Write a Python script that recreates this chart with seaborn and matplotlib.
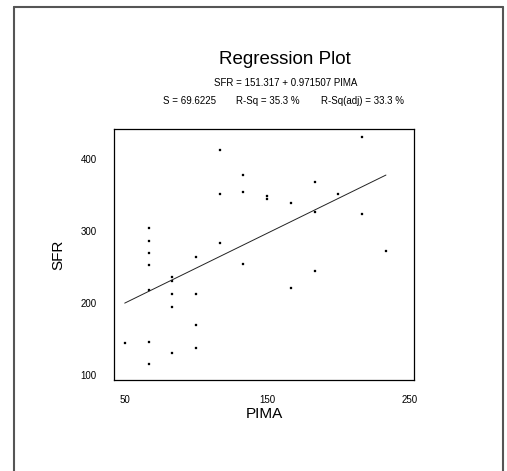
import numpy as np
import pandas as pd
import matplotlib
matplotlib.use("Agg")
import matplotlib.pyplot as plt
from matplotlib.lines import Line2D
import seaborn as sns

pima = [50, 66.7, 66.7, 66.7, 66.7, 66.7, 66.7, 66.7,
        83.3, 83.3, 83.3, 83.3, 83.3,
        100, 100, 100, 100,
        116.7, 116.7, 116.7,
        133.3, 133.3, 133.3,
        150, 150,
        166.7, 166.7,
        183.3, 183.3, 183.3,
        200, 216.7, 216.7, 233.3]
sfr = [145, 146, 115, 305, 286, 269, 253, 218,
       130, 236, 230, 213, 194,
       137, 264, 213, 169,
       413, 352, 283,
       378, 354, 254,
       349, 344,
       339, 221,
       368, 327, 245,
       352, 431, 324, 273]

# fitted equation shown on the chart
intercept = 151.317
slope = 0.971507

x_ticks = [50, 150, 250]
y_ticks = [100, 200, 300, 400]

df = pd.DataFrame({"PIMA": pima, "SFR": sfr})
fit_x = np.array([min(pima), max(pima)])
fit = pd.DataFrame({"PIMA": fit_x, "SFR": intercept + slope * fit_x})

sns.set_style("white")
plt.rcParams["font.family"] = ["Liberation Sans", "DejaVu Sans"]
plt.rcParams["text.color"] = "black"
plt.rcParams["axes.labelcolor"] = "black"

fig = plt.figure(figsize=(5.07, 4.71), dpi=100)
ax = fig.add_axes([0.2249, 0.1932, 0.5917, 0.5329])

sns.scatterplot(data=df, x="PIMA", y="SFR", ax=ax, marker="s", s=4.5,
                color="black", edgecolor="black", linewidth=0.2)
sns.lineplot(data=fit, x="PIMA", y="SFR", ax=ax, color="#222222", linewidth=0.7)

ax.set_xlim(42.5, 253)
ax.set_ylim(93, 442)
ax.set_xticks(x_ticks)
ax.set_yticks(y_ticks)
ax.tick_params(direction="out", length=4.5, width=0.8, labelsize=7,
               color="black", labelcolor="black")
ax.tick_params(axis="x", pad=6)
ax.tick_params(axis="y", pad=8)
for sp in ax.spines.values():
    sp.set_color("black")
    sp.set_linewidth(0.9)

ax.set_xlabel("PIMA", fontsize=11, labelpad=2)
ax.set_ylabel("SFR", fontsize=11, labelpad=11)

fig.text(0.562, 0.874, "Regression Plot", ha="center", va="center", fontsize=13.5)
fig.text(0.564, 0.823, "SFR = 151.317 + 0.971507 PIMA", ha="center", va="center", fontsize=7)
fig.text(0.426, 0.786, "S = 69.6225", ha="right", va="center", fontsize=7)
fig.text(0.4655, 0.786, "R-Sq = 35.3 %", ha="left", va="center", fontsize=7)
fig.text(0.797, 0.786, "R-Sq(adj) = 33.3 %", ha="right", va="center", fontsize=7)

# outer frame (open at the bottom)
frame_kw = dict(transform=fig.transFigure, color="#555555", linewidth=1.5)
fig.add_artist(Line2D([0.027, 0.027], [0.0, 0.986], **frame_kw))
fig.add_artist(Line2D([0.027, 0.9915], [0.986, 0.986], **frame_kw))
fig.add_artist(Line2D([0.9915, 0.9915], [0.0, 0.986], **frame_kw))

fig.savefig("out.png", dpi=100, facecolor="white")
